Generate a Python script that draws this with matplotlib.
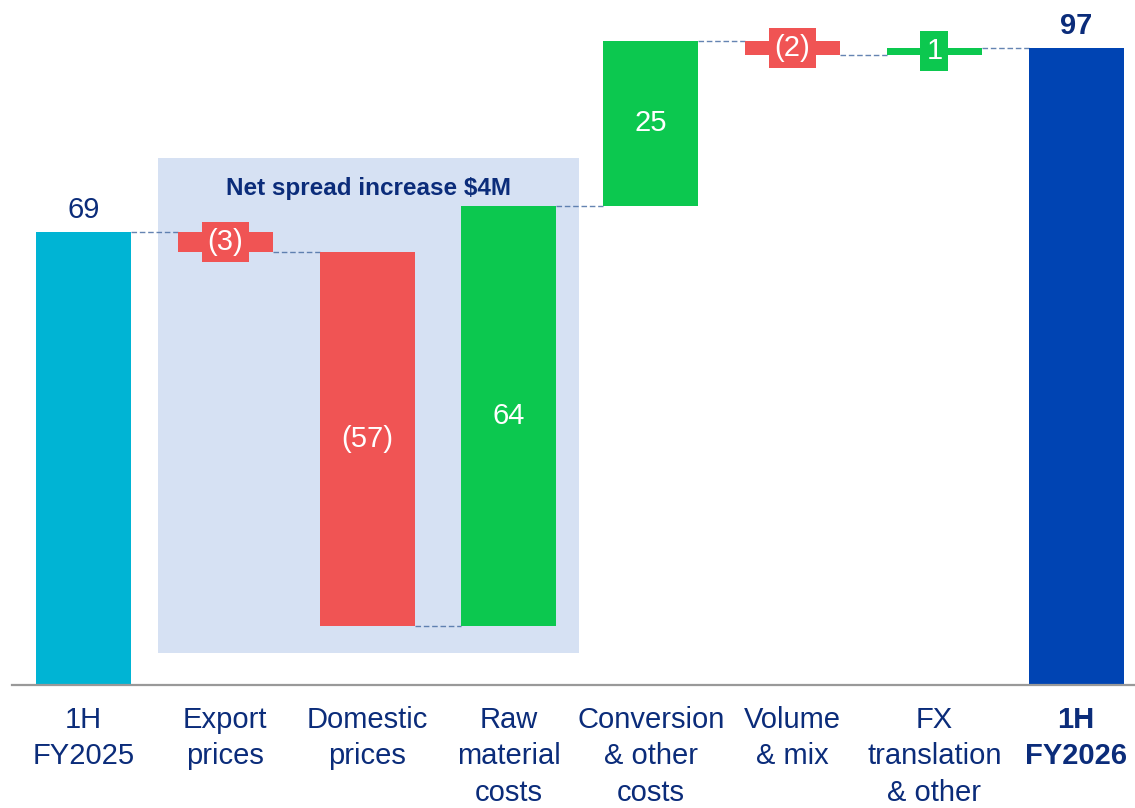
import matplotlib.pyplot as plt
from matplotlib.patches import Rectangle

plt.rcParams['font.family'] = ['Liberation Sans', 'DejaVu Sans']

# Puente de EBITDA 1H FY2025 -> 1H FY2026 (US$M)
categorias = ['1H\nFY2025', 'Export\nprices', 'Domestic\nprices', 'Raw\nmaterial\ncosts',
              'Conversion\n& other\ncosts', 'Volume\n& mix', 'FX\ntranslation\n& other',
              '1H\nFY2026']
valores = [69, -3, -57, 64, 25, -2, 1, 97]
es_total = [True, False, False, False, False, False, False, True]
texto_caja = 'Net spread increase $4M'

color_texto = '#0B2C7A'
color_ini = '#00B4D4'
color_fin = '#0044B3'
color_pos = '#0CC84F'
color_neg = '#F05454'
color_caja = '#D6E1F3'
color_guia = '#4A6FA5'

fig = plt.figure(figsize=(11.35, 8.08), dpi=100)
ax = fig.add_axes([12 / 1135, 123 / 808, 1 - 12 / 1135, 685 / 808])

ancho = 0.67
x = list(range(len(categorias)))

# calcular bases y alturas de cada barra
bases, alturas, niveles = [], [], []
acumulado = 0
for v, tot in zip(valores, es_total):
    if tot:
        bases.append(0)
        alturas.append(v)
        acumulado = v
    else:
        inicio = acumulado
        acumulado = acumulado + v
        bases.append(min(inicio, acumulado))
        alturas.append(abs(v))
    niveles.append(acumulado)

colores = []
for i, v in enumerate(valores):
    if es_total[i]:
        colores.append(color_ini if i == 0 else color_fin)
    else:
        colores.append(color_pos if v > 0 else color_neg)

# caja sombreada del spread neto
ax.add_patch(Rectangle((0.525, 4.9), 2.97, 75.3, facecolor=color_caja,
                       edgecolor='none', zorder=0))
ax.text(2.01, 75.6, texto_caja, ha='center', va='center', fontsize=17.5,
        fontweight='bold', color=color_texto, zorder=3)

ax.bar(x, alturas, bottom=bases, width=ancho, color=colores, zorder=2)

# lineas punteadas entre barras
for i in range(len(valores) - 1):
    ax.plot([x[i] + ancho / 2, x[i + 1] - ancho / 2], [niveles[i], niveles[i]],
            color=color_guia, lw=1, ls=(0, (4, 2)), alpha=0.85, zorder=1)

# etiquetas de valores
for i, v in enumerate(valores):
    txt = f'({abs(v)})' if v < 0 else str(v)
    centro = bases[i] + alturas[i] / 2
    if es_total[i]:
        peso = 'bold' if i == len(valores) - 1 else 'normal'
        ax.text(x[i], bases[i] + alturas[i] + 2.1, txt, ha='center', va='baseline',
                fontsize=21, color=color_texto, fontweight=peso, zorder=3)
    elif alturas[i] < 10:
        ax.text(x[i], centro, txt, ha='center', va='center', fontsize=21,
                color='white', zorder=3,
                bbox=dict(boxstyle='square,pad=0.2', facecolor=colores[i],
                          edgecolor='none'))
    else:
        ax.text(x[i], centro, txt, ha='center', va='center', fontsize=21,
                color='white', zorder=3)

ax.set_xlim(-0.504, 7.415)
ax.set_ylim(0, 104.3)
ax.set_xticks(x)
ax.set_xticklabels(categorias, fontsize=21, color=color_texto, linespacing=1.38)
ax.get_xticklabels()[-1].set_fontweight('bold')
ax.tick_params(axis='x', length=0, pad=15)
ax.set_yticks([])
for lado in ['top', 'right', 'left']:
    ax.spines[lado].set_visible(False)
ax.spines['bottom'].set_color('#999999')
ax.spines['bottom'].set_linewidth(1.6)

plt.savefig('out.png', dpi=100)
